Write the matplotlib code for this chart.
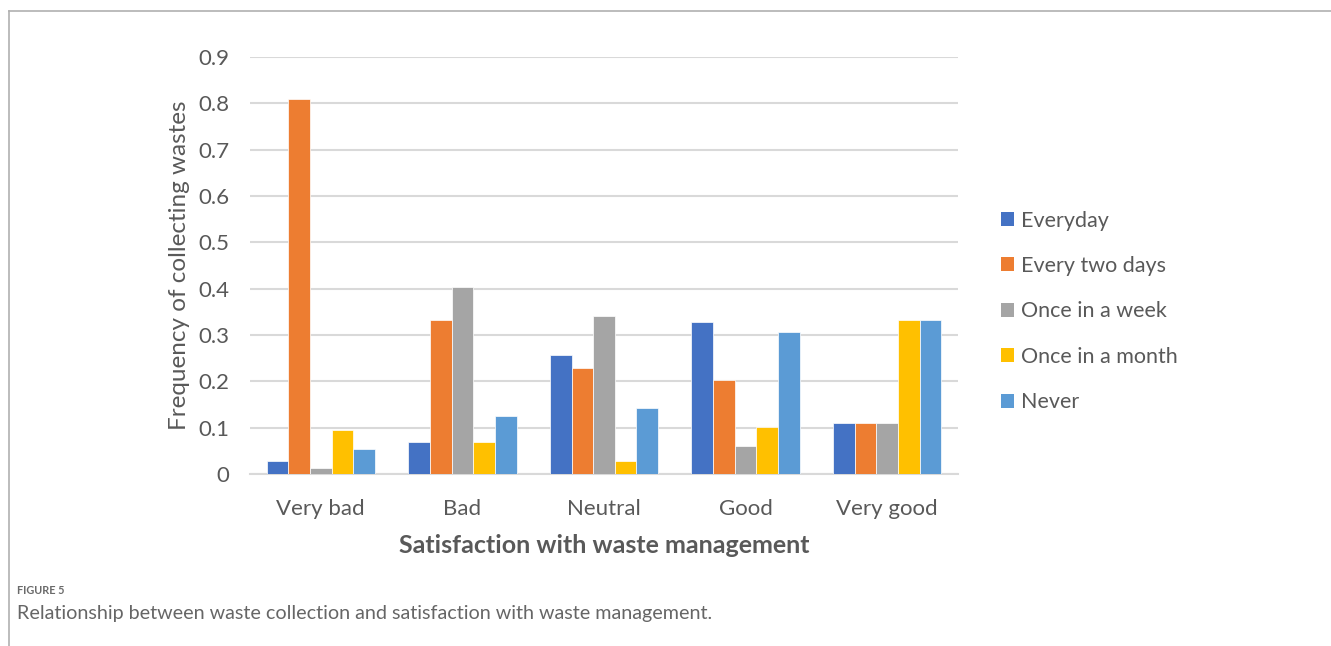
import numpy as np
import matplotlib.pyplot as plt
from matplotlib.patches import Patch
from matplotlib.lines import Line2D

plt.rcParams['font.family'] = ['Lato', 'DejaVu Sans']

# Survey results: share of respondents per collection frequency
categories = ['Very bad', 'Bad', 'Neutral', 'Good', 'Very good']
series_names = ['Everyday', 'Every two days', 'Once in a week', 'Once in a month', 'Never']
everyday = [0.027, 0.068, 0.256, 0.327, 0.111]
every_two_days = [0.81, 0.333, 0.228, 0.203, 0.111]
once_a_week = [0.014, 0.403, 0.342, 0.060, 0.111]
once_a_month = [0.094, 0.068, 0.029, 0.101, 0.333]
never = [0.053, 0.125, 0.143, 0.306, 0.333]
y_ticks = [0, 0.1, 0.2, 0.3, 0.4, 0.5, 0.6, 0.7, 0.8, 0.9]
y_tick_labels = ['0', '0.1', '0.2', '0.3', '0.4', '0.5', '0.6', '0.7', '0.8', '0.9']

colors = ['#4472c4', '#ed7d31', '#a5a5a5', '#ffc000', '#5b9bd5']
values = [everyday, every_two_days, once_a_week, once_a_month, never]

W, H = 1331, 646
fig = plt.figure(figsize=(W / 100, H / 100), dpi=100)

# page frame (top and left rules)
fig.add_artist(Line2D([9 / W, 9 / W], [0, 1 - 11 / H], color='#b0b0b0', lw=1.2))
fig.add_artist(Line2D([9 / W, 1], [1 - 11 / H, 1 - 11 / H], color='#b0b0b0', lw=1.2))

ax = fig.add_axes([250 / W, (H - 474) / H, 708 / W, (474 - 57) / H])

x = np.arange(len(categories))
bar_w = 0.153
for i, (name, vals) in enumerate(zip(series_names, values)):
    offset = (i - 2) * bar_w
    ax.bar(x + offset, vals, width=bar_w, color=colors[i], label=name,
           edgecolor='white', linewidth=0.5, zorder=3)

ax.set_xlim(-0.5, 4.5)
ax.set_ylim(0, 0.9)
ax.set_yticks(y_ticks)
ax.set_yticklabels(y_tick_labels)
ax.set_xticks(x)
ax.set_xticklabels(categories)
ax.tick_params(axis='both', length=0, labelsize=16, colors='#595959')
ax.tick_params(axis='y', pad=15)
ax.tick_params(axis='x', pad=18)
ax.grid(axis='y', color='#d9d9d9', linewidth=1.5, zorder=0)
for side in ['top', 'right', 'left']:
    ax.spines[side].set_visible(False)
ax.spines['bottom'].set_color('#d9d9d9')
ax.spines['bottom'].set_linewidth(1.5)

ax.set_ylabel('Frequency of collecting wastes', fontsize=17.5, color='#595959', labelpad=6)
ax.set_xlabel('Satisfaction with waste management', fontsize=18, fontweight='bold',
              color='#595959', labelpad=11)

handles = [Patch(facecolor=c, edgecolor='none') for c in colors]
fig.legend(handles, series_names, loc='upper left', bbox_to_anchor=(992 / W, 1 - 202 / H),
           frameon=False, fontsize=15.5, labelcolor='#595959', handlelength=0.62,
           handleheight=0.62, handletextpad=0.35, labelspacing=1.18, borderaxespad=0)

# caption
fig.text(17 / W, 1 - 590 / H, 'FIGURE 5', fontsize=7.8, fontweight='bold',
         color='#6a6a6a', va='center')
fig.text(17 / W, 1 - 613 / H,
         'Relationship between waste collection and satisfaction with waste management.',
         fontsize=14.2, color='#666666', va='center')

fig.savefig('out.png', dpi=100)
